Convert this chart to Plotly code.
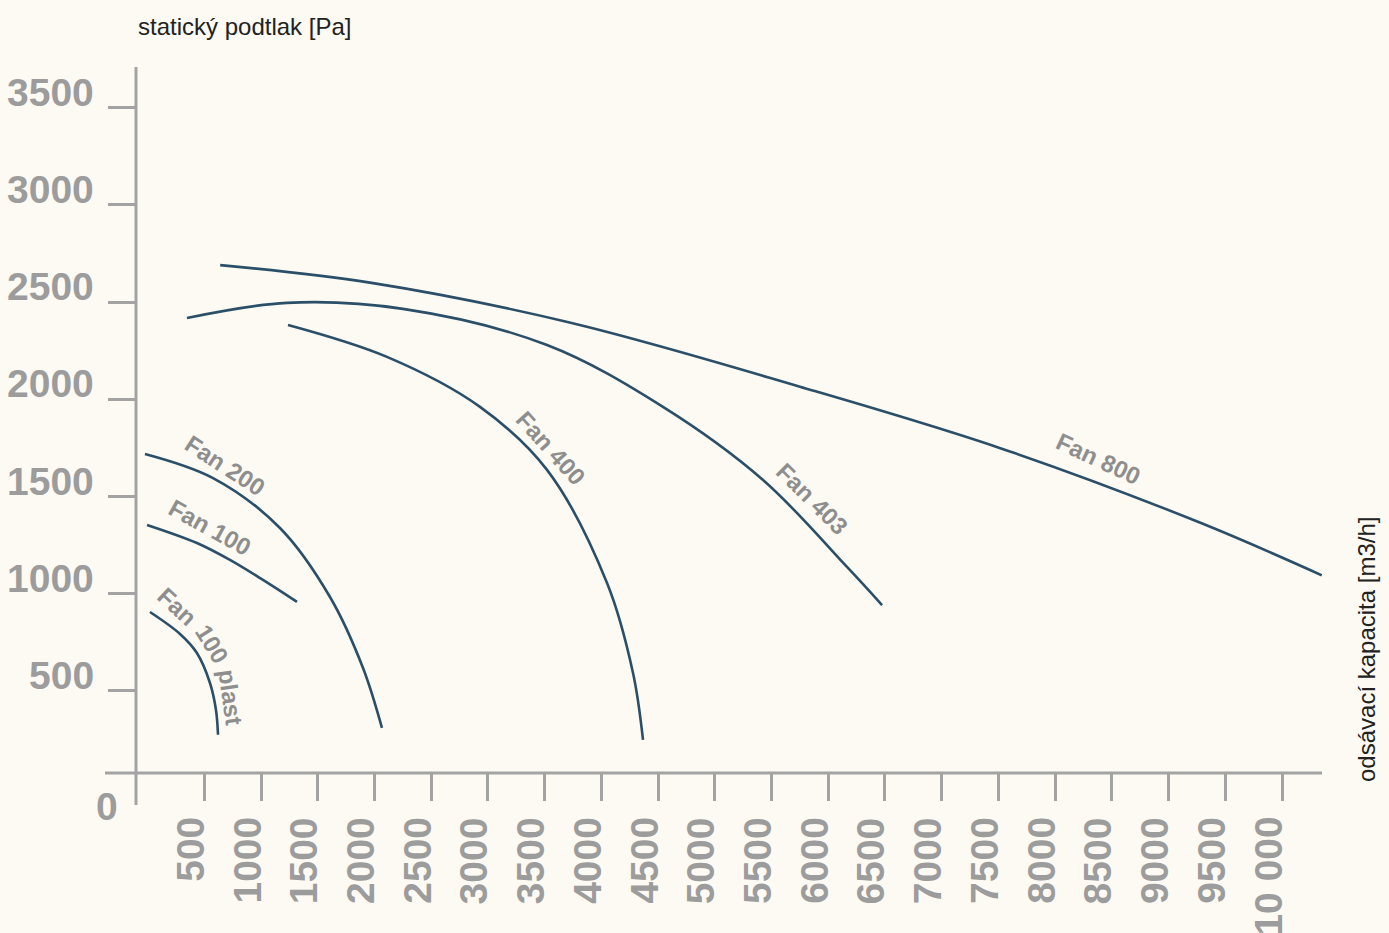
import plotly.graph_objects as go

# ---- data ----
fan100plast_x = [21, 286, 435, 550, 603, 621]
fan100plast_y = [906, 793, 695, 541, 402, 275]

fan100_x = [-5, 435, 726, 1017, 1317]
fan100_y = [1354, 1261, 1174, 1071, 958]

fan200_x = [-23, 577, 1167, 1608, 1899, 2066]
fan200_y = [1719, 1595, 1338, 983, 618, 310]

fan400_x = [1238, 2110, 2930, 3521, 4050, 4279, 4367]
fan400_y = [2382, 2218, 1961, 1637, 1055, 592, 248]

fan403_x = [347, 1229, 2251, 3521, 4543, 5425, 6165, 6474]
fan403_y = [2418, 2496, 2465, 2279, 1961, 1585, 1138, 942]

fan800_x = [640, 1960, 3720, 5750, 7510, 9280, 10350]
fan800_y = [2690, 2600, 2395, 2065, 1750, 1365, 1095]

x_tick_vals = [500, 1000, 1500, 2000, 2500, 3000, 3500, 4000, 4500, 5000,
               5500, 6000, 6500, 7000, 7500, 8000, 8500, 9000, 9500, 10000]
x_tick_text = ["500", "1000", "1500", "2000", "2500", "3000", "3500", "4000", "4500", "5000",
               "5500", "6000", "6500", "7000", "7500", "8000", "8500", "9000", "9500", "10 000"]
y_tick_vals = [500, 1000, 1500, 2000, 2500, 3000, 3500]
y_tick_text = ["500", "1000", "1500", "2000", "2500", "3000", "3500"]

y_title = "statický podtlak [Pa]"
x_title = "odsávací kapacita [m3/h]"

# ---- styling / layout ----
W, H = 1389, 933
ML, MR, MT, MB = 136, 67, 67, 160
PW, PH = W - ML - MR, H - MT - MB
BG = "#fcfaf3"
CURVE = "#2b4f69"
AXIS = "#a3a3a3"
TICKTXT = "#9c9c9c"
LABEL = "#8e8e8e"
FONT = "Liberation Sans, Arial, sans-serif"


def px_x(p):
    return (p - ML) / PW


def px_y(p):
    return (H - MB - p) / PH


fig = go.Figure()
series = [
    (fan100plast_x, fan100plast_y),
    (fan100_x, fan100_y),
    (fan200_x, fan200_y),
    (fan400_x, fan400_y),
    (fan403_x, fan403_y),
    (fan800_x, fan800_y),
]
for xs, ys in series:
    fig.add_trace(go.Scatter(x=xs, y=ys, mode="lines",
                             line=dict(color=CURVE, width=2.6, shape="spline", smoothing=1.0),
                             hoverinfo="skip", showlegend=False))

annotations = []
# curve labels (text, x, y, angle)
curve_labels = [
    ("Fan 200", 682, 1657, 33),
    ("Fan 100", 550, 1339, 29),
    ("Fan", 262, 935, 43),
    ("100", 572, 740, 58),
    ("plast", 730, 465, 82),
    ("Fan 400", 3548, 1750, 48),
    ("Fan 403", 5857, 1492, 45),
    ("Fan 800", 8378, 1698, 25),
]
for t, x, y, a in curve_labels:
    annotations.append(dict(text=f"<b>{t}</b>", x=x, y=y, xref="x", yref="y",
                            textangle=a, showarrow=False,
                            font=dict(family=FONT, size=24, color=LABEL)))

# y tick labels
for v, t in zip(y_tick_vals, y_tick_text):
    annotations.append(dict(text=f"<b>{t}</b>", x=px_x(96), y=v, xref="paper", yref="y",
                            xanchor="right", yanchor="bottom", yshift=-8, showarrow=False,
                            font=dict(family=FONT, size=39, color=TICKTXT)))
# zero label
annotations.append(dict(text="<b>0</b>", x=px_x(107), y=px_y(806), xref="paper", yref="paper",
                        xanchor="center", yanchor="middle", showarrow=False,
                        font=dict(family=FONT, size=39, color=TICKTXT)))
# x tick labels (rotated)
for v, t in zip(x_tick_vals, x_tick_text):
    annotations.append(dict(text=f"<b>{t}</b>", x=v, y=px_y(815), xref="x", yref="paper",
                            xanchor="center", yanchor="top", xshift=-14, textangle=-90,
                            showarrow=False,
                            font=dict(family=FONT, size=39, color=TICKTXT)))
# axis titles
annotations.append(dict(text=y_title, x=px_x(136), y=px_y(26), xref="paper", yref="paper",
                        xanchor="left", yanchor="middle", showarrow=False,
                        font=dict(family=FONT, size=24, color="#222222")))
annotations.append(dict(text=x_title, x=px_x(1366), y=px_y(650), xref="paper", yref="paper",
                        xanchor="center", yanchor="middle", textangle=-90, showarrow=False,
                        font=dict(family=FONT, size=24, color="#222222")))

shapes = [
    dict(type="line", xref="paper", yref="paper", x0=0, x1=0, y0=px_y(805), y1=1,
         line=dict(color=AXIS, width=3)),
    dict(type="line", xref="paper", yref="paper", x0=px_x(105), x1=1, y0=0, y1=0,
         line=dict(color=AXIS, width=3)),
]

fig.update_layout(
    width=W, height=H,
    margin=dict(l=ML, r=MR, t=MT, b=MB),
    paper_bgcolor=BG, plot_bgcolor=BG,
    annotations=annotations, shapes=shapes,
    showlegend=False,
    xaxis=dict(range=[-102, 10352], showgrid=False, zeroline=False, showline=False,
               tickvals=x_tick_vals, showticklabels=False, ticks="outside",
               ticklen=27, tickwidth=3, tickcolor=AXIS, fixedrange=True),
    yaxis=dict(range=[78, 3709], showgrid=False, zeroline=False, showline=False,
               tickvals=y_tick_vals, showticklabels=False, ticks="outside",
               ticklen=27, tickwidth=3, tickcolor=AXIS, fixedrange=True),
)

fig.write_html("out.html",
               config={"displayModeBar": False},
               post_script="document.body.style.margin='0';document.body.style.overflow='hidden';"
                           "document.body.style.background='" + BG + "';")
